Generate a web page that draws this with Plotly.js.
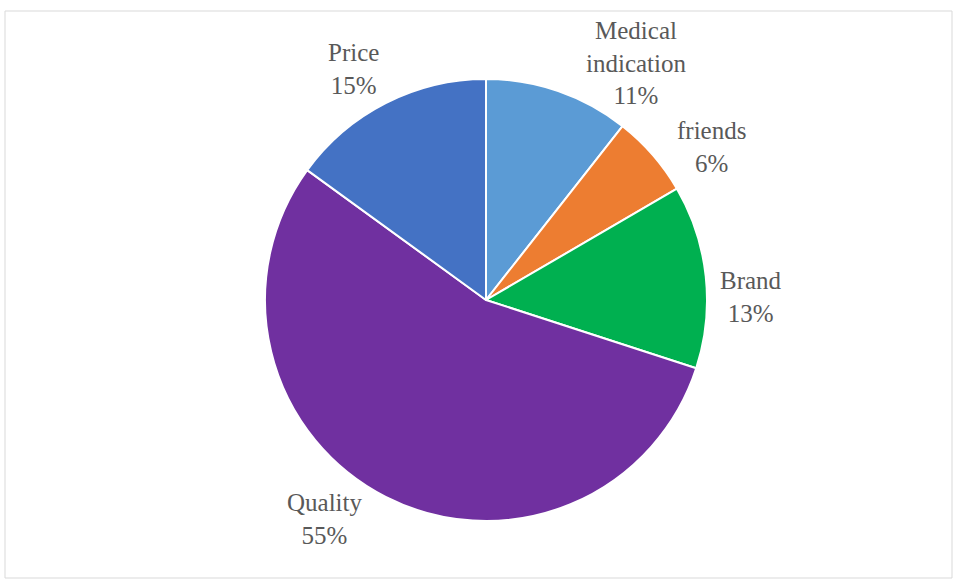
<!DOCTYPE html>
<html>
<head>
<meta charset="utf-8">
<script src="https://cdn.plot.ly/plotly-3.0.1.min.js"></script>
<style>html,body{margin:0;padding:0;background:#fff;}#chart{width:955px;height:580px;}</style>
</head>
<body>
<div id="chart"></div>
<script>
const labels = ["Medical<br>indication", "friends", "Brand", "Quality", "Price"];
const values = [10.6, 6, 13.4, 55, 15];
const colors = ["#5B9BD5", "#ED7D31", "#00B050", "#7030A0", "#4472C4"];

// label anchor positions in pixels (layout only)
const labelPos = [[636, 63], [711, 147], [751, 297], [324, 519], [353, 69]];

const W = 955, H = 580;
const cx = 486, cy = 300, r = 221;
const FONT = "'Times New Roman', 'Liberation Serif', serif";

const trace = {
  type: "pie",
  labels: labels,
  values: values,
  sort: false,
  direction: "clockwise",
  rotation: 0,
  marker: {colors: colors, line: {color: "#ffffff", width: 2}},
  textinfo: "none",
  hoverinfo: "label+percent",
  showlegend: false,
  domain: {x: [(cx - r) / W, (cx + r) / W], y: [1 - (cy + r) / H, 1 - (cy - r) / H]}
};

const annotations = labels.map((lab, i) => ({
  xref: "paper", yref: "paper",
  x: labelPos[i][0] / W, y: 1 - labelPos[i][1] / H,
  xanchor: "center", yanchor: "middle",
  text: lab + "<br>" + Math.round(values[i]) + "%",
  showarrow: false,
  align: "center",
  font: {family: FONT, size: 25, color: "#595959"}
}));

const layout = {
  width: W, height: H,
  margin: {l: 0, r: 0, t: 0, b: 0},
  paper_bgcolor: "#ffffff",
  font: {family: FONT},
  annotations: annotations,
  shapes: [{type: "rect", xref: "paper", yref: "paper",
    x0: 5 / W, x1: 952 / W, y0: 1 - 578 / H, y1: 1 - 11 / H,
    line: {color: "#d9d9d9", width: 1}}]
};

Plotly.newPlot("chart", [trace], layout, {displayModeBar: false, staticPlot: true});
</script>
</body>
</html>
